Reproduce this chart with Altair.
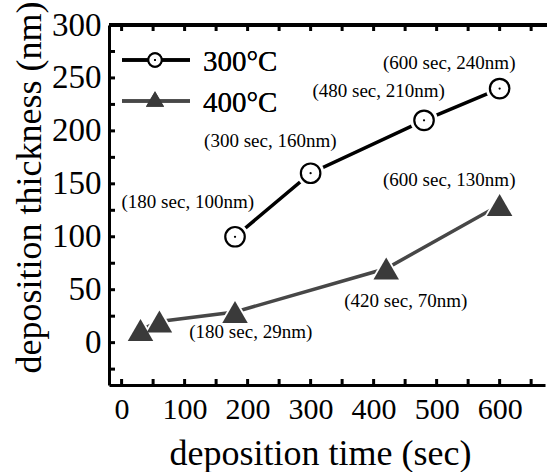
import altair as alt
import pandas as pd

# ---- data ----
series_names = ["300°C", "400°C"]
t300 = [180, 300, 480, 600]
d300 = [100, 160, 210, 240]
t400 = [30, 60, 180, 420, 600]
d400 = [12, 20, 29, 70, 130]

ann_text = ["(180 sec, 100nm)", "(300 sec, 160nm)", "(480 sec, 210nm)",
            "(600 sec, 240nm)", "(600 sec, 130nm)", "(420 sec, 70nm)",
            "(180 sec, 29nm)"]
ann_x = [105, 236, 408, 520, 520, 451, 205]
ann_y = [133, 190, 238, 264, 154, 39, 10]

x_label_values = [0, 100, 200, 300, 400, 500, 600]
y_label_values = [0, 50, 100, 150, 200, 250, 300]
x_tick_values = list(range(0, 651, 50))
y_tick_values = list(range(-25, 300, 25))

W, H = 436, 360
FONT = "Liberation Serif, Times New Roman, Times, serif"

df300 = pd.DataFrame({"t": t300, "d": d300})
df400 = pd.DataFrame({"t": t400, "d": d400})
dfann = pd.DataFrame({"t": ann_x, "d": ann_y, "label": ann_text})
dfxt = pd.DataFrame({"t": x_tick_values})
dfyt = pd.DataFrame({"d": y_tick_values})

xscale = alt.Scale(domain=[-20, 672], nice=False, zero=False)
yscale = alt.Scale(domain=[-40, 300], nice=False, zero=False)

xaxis = alt.Axis(values=x_label_values, ticks=False, grid=False, domainWidth=3,
                 domainColor="black", labelFontSize=30, labelPadding=9,
                 labelColor="black", labelFont=FONT, labelFontWeight="normal",
                 title="deposition time (sec)",
                 titleFont=FONT, titleFontSize=36, titleFontWeight="normal",
                 titleColor="black", titleX=211, titleY=68, titleBaseline="middle",
                 titleAlign="center")
yaxis = alt.Axis(values=y_label_values, ticks=False, grid=False, domainWidth=3,
                 domainColor="black", labelFontSize=33, labelPadding=8,
                 labelColor="black", labelFont=FONT, labelFontWeight="normal",
                 title="deposition thickness (nm)",
                 titleFont=FONT, titleFontSize=36, titleFontWeight="normal",
                 titleColor="black", titleX=-80, titleY=162, titleAngle=270,
                 titleBaseline="middle", titleAlign="center")

X = alt.X("t:Q", scale=xscale, axis=xaxis)
Y = alt.Y("d:Q", scale=yscale, axis=yaxis)

base300 = alt.Chart(df300)
base400 = alt.Chart(df400)

line300 = base300.mark_line(color="black", strokeWidth=3.5).encode(x=X, y=Y)
line400 = base400.mark_line(color="#474747", strokeWidth=3.5).encode(x=X, y=Y)

halo300 = base300.mark_point(shape="circle", filled=True, fill="white", opacity=1,
                             size=760, strokeWidth=0).encode(x=X, y=Y)
halo400 = base400.mark_point(shape="triangle-up", filled=True, fill="white", opacity=1,
                             size=1150, strokeWidth=0).encode(x=X, y=Y)
pts300 = base300.mark_point(shape="circle", filled=True, fill="white", stroke="black",
                            strokeWidth=2.2, opacity=1, size=380).encode(x=X, y=Y)
dots300 = base300.mark_point(shape="circle", filled=True, color="black", opacity=1,
                             size=5).encode(x=X, y=Y)
pts400 = base400.mark_point(shape="triangle-up", filled=True, color="#3a3a3a",
                            opacity=1, size=650).encode(x=X, y=Y)

ann = alt.Chart(dfann).mark_text(font=FONT, fontSize=19, color="black",
                                 fontWeight="normal",
                                 baseline="middle", align="center").encode(
    x=X, y=Y, text="label:N")

# frame & inward ticks
top_line = alt.Chart(dfxt).mark_rule(color="black", strokeWidth=3).encode(
    x=alt.value(0), x2=alt.value(W + 4), y=alt.value(0))
ticks_bottom = alt.Chart(dfxt).mark_rule(color="black", strokeWidth=3).encode(
    x=X, y=alt.value(H), y2=alt.value(H - 6))
ticks_top = alt.Chart(dfxt).mark_rule(color="black", strokeWidth=3).encode(
    x=X, y=alt.value(0), y2=alt.value(6))
ticks_left = alt.Chart(dfyt).mark_rule(color="black", strokeWidth=3).encode(
    y=Y, x=alt.value(0), x2=alt.value(6))

# legend
leg_df = pd.DataFrame({"name": series_names})
leg1_line = alt.Chart(leg_df).mark_rule(color="black", strokeWidth=3.5).encode(
    x=alt.value(13), x2=alt.value(81), y=alt.value(35))
leg1_pt = alt.Chart(leg_df).mark_point(shape="circle", filled=True, fill="white",
                                       stroke="black", strokeWidth=2, opacity=1,
                                       size=180).encode(x=alt.value(46), y=alt.value(35))
leg1_dot = alt.Chart(leg_df).mark_point(shape="circle", filled=True, color="black",
                                        opacity=1, size=4).encode(x=alt.value(46), y=alt.value(35))
leg1_txt = alt.Chart(leg_df).mark_text(font=FONT, fontSize=29, color="black",
                                       fontWeight="normal",
                                       align="left", baseline="middle", text=series_names[0]).encode(
    x=alt.value(94), y=alt.value(37))
leg2_line = alt.Chart(leg_df).mark_rule(color="#474747", strokeWidth=3.5).encode(
    x=alt.value(13), x2=alt.value(81), y=alt.value(76))
leg2_pt = alt.Chart(leg_df).mark_point(shape="triangle-up", filled=True, color="#3a3a3a",
                                       opacity=1, size=330).encode(x=alt.value(46), y=alt.value(74))
leg2_txt = alt.Chart(leg_df).mark_text(font=FONT, fontSize=29, color="black",
                                       fontWeight="normal",
                                       align="left", baseline="middle", text=series_names[1]).encode(
    x=alt.value(94), y=alt.value(78))

chart = alt.layer(
    line300, line400, ticks_bottom, ticks_top, ticks_left, top_line,
    halo300, halo400, pts300, dots300, pts400, ann,
    leg1_line, leg1_pt, leg1_dot, leg1_txt, leg2_line, leg2_pt, leg2_txt,
).properties(
    width=W, height=H,
    autosize=alt.AutoSizeParams(type="none"),
    padding={"left": 109, "top": 25, "right": 2, "bottom": 87},
    background="white",
).configure_view(stroke=None).configure_axis(
    labelFont=FONT, titleFont=FONT
).configure_text(font=FONT)

chart.save("out.html", embed_options={"renderer": "svg", "actions": False})
